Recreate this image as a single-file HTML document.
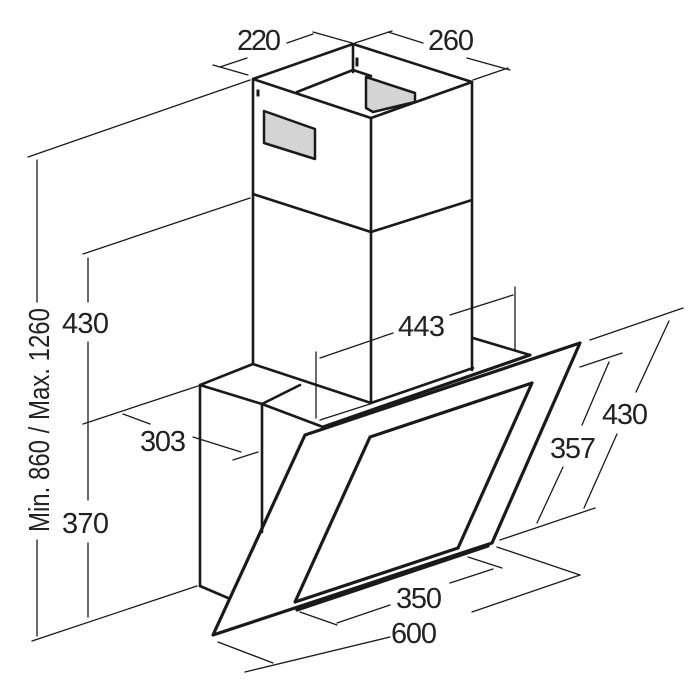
<!DOCTYPE html>
<html><head><meta charset="utf-8"><style>
html,body{margin:0;padding:0;background:#fff;}
svg{display:block;}
text{font-family:"Liberation Sans",sans-serif;font-size:29px;fill:#222;}
</style></head><body>
<svg width="700" height="700" viewBox="0 0 700 700" xmlns="http://www.w3.org/2000/svg">
<g stroke="#1a1a1a" fill="none" stroke-linecap="round" stroke-linejoin="round">
<g stroke-width="1.3">
<line x1="213" y1="65" x2="248" y2="75"/>
<line x1="220" y1="67" x2="247" y2="58"/>
<line x1="287" y1="43" x2="313" y2="34"/>
<line x1="313" y1="32" x2="352" y2="43"/>
<line x1="355" y1="43" x2="392" y2="31"/>
<line x1="388" y1="32" x2="423" y2="43"/>
<line x1="467" y1="58" x2="510" y2="70"/>
<line x1="473" y1="80" x2="508" y2="68"/>
<line x1="28" y1="157" x2="250" y2="80"/>
<line x1="37" y1="160" x2="37" y2="302"/>
<line x1="37" y1="540" x2="37" y2="636"/>
<line x1="32" y1="641" x2="197" y2="586"/>
<line x1="83" y1="254" x2="250" y2="198"/>
<line x1="88" y1="258" x2="88" y2="302"/>
<line x1="88" y1="342" x2="88" y2="500"/>
<line x1="88" y1="543" x2="88" y2="617"/>
<line x1="83" y1="424" x2="198" y2="386"/>
<line x1="123" y1="414" x2="150" y2="424"/>
<line x1="193" y1="437" x2="241" y2="452"/>
<line x1="233" y1="460" x2="258" y2="452"/>
<line x1="316" y1="352" x2="316" y2="418"/>
<line x1="320" y1="358" x2="393" y2="333"/>
<line x1="450" y1="315" x2="513" y2="295"/>
<line x1="515" y1="287" x2="515" y2="350"/>
<line x1="320" y1="420" x2="370" y2="404"/>
<line x1="590" y1="340" x2="683" y2="308"/>
<line x1="669" y1="321" x2="636" y2="392"/>
<line x1="617" y1="434" x2="584" y2="508"/>
<line x1="500" y1="540" x2="595" y2="508"/>
<line x1="580" y1="367" x2="622" y2="353"/>
<line x1="609" y1="362" x2="582" y2="425"/>
<line x1="563" y1="467" x2="537" y2="523"/>
<line x1="218" y1="642" x2="273" y2="663"/>
<line x1="245" y1="672" x2="390" y2="637"/>
<line x1="472" y1="612" x2="580" y2="575"/>
<line x1="497" y1="547" x2="580" y2="575"/>
<line x1="300" y1="612" x2="337" y2="625"/>
<line x1="337" y1="623" x2="390" y2="605"/>
<line x1="450" y1="583" x2="493" y2="569"/>
<line x1="468" y1="557" x2="502" y2="568"/>
</g>
<polygon points="264,111 315,129 315,159 264,143" fill="#d4d4d4" stroke-width="2.5"/>
<polygon points="366,77 415,93 415,102 373,112 366,108" fill="#d4d4d4" stroke-width="2.5"/>
<g stroke-width="2.6">
<polyline points="253,79 353,44 472,82 371,118 253,79"/>
<line x1="253" y1="79" x2="253" y2="363"/>
<line x1="371" y1="118" x2="371" y2="403"/>
<line x1="472" y1="82" x2="472" y2="370"/>
<polyline points="253,194 371,232 472,200"/>
<line x1="297" y1="92" x2="353" y2="70"/>
<line x1="353" y1="44" x2="353" y2="72"/>
<line x1="353" y1="70" x2="371" y2="76"/>
<rect x="356" y="58" width="2" height="8" fill="#1a1a1a" stroke-width="1"/>
<rect x="257" y="90" width="2" height="6" fill="#1a1a1a" stroke-width="1"/>
<polyline points="200,385 253,364 371,403 473,368"/>
<line x1="473" y1="338" x2="530" y2="355"/>
<line x1="200" y1="385" x2="200" y2="586"/>
<line x1="200" y1="586" x2="228" y2="598"/>
<polyline points="200,385 262,404 300,385"/>
<line x1="262" y1="404" x2="262" y2="532"/>
<line x1="262" y1="404" x2="323" y2="427"/>
</g>
<g stroke-width="3.2">
<polygon points="305,435 580,343 492,543 213,635"/>
<line x1="323" y1="427" x2="530" y2="355"/>
<line x1="297" y1="610" x2="488" y2="546"/>
<polygon points="370,437 532,383 458,548 295,602"/>
</g>
</g>
<text x="237" y="50" textLength="44">220</text>
<text x="428" y="50" textLength="46">260</text>
<text x="62" y="333" textLength="47">430</text>
<text x="62" y="533" textLength="47">370</text>
<text x="140" y="451" textLength="46">303</text>
<text x="398" y="336" textLength="47">443</text>
<text x="602" y="424" textLength="46">430</text>
<text x="550" y="458" textLength="46">357</text>
<text x="396" y="608" textLength="46">350</text>
<text x="391" y="643" textLength="46">600</text>
<text transform="translate(49,420) rotate(-90)" text-anchor="middle" textLength="224" lengthAdjust="spacingAndGlyphs" style="font-size:29px">Min. 860 / Max. 1260</text>
</svg>
</body></html>
